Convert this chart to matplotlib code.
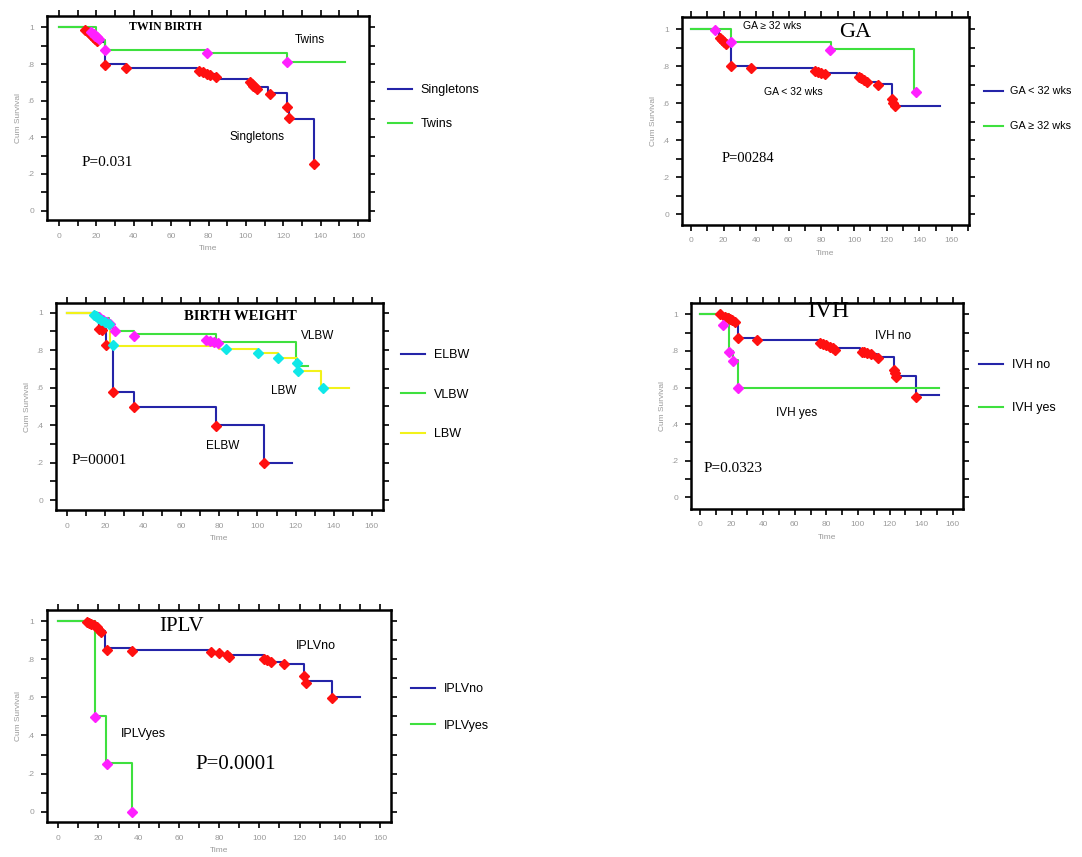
# Kaplan-Meier survival curves, five risk factors (TWIN BIRTH, GA, BIRTH WEIGHT, IVH, IPLV)

import matplotlib
matplotlib.use("Agg")
import matplotlib.pyplot as plt
from matplotlib.ticker import MultipleLocator, FixedLocator, FixedFormatter

plt.rcParams["font.family"] = ["Liberation Sans", "DejaVu Sans"]

# ---- TWIN BIRTH ----
sing_t = [0, 14, 17, 20, 24.5, 36, 74, 79, 84, 101, 104, 106, 112, 121.7, 123, 136.5]
sing_s = [1, 0.98, 0.95, 0.92, 0.80, 0.78, 0.76, 0.745, 0.72, 0.70, 0.685, 0.673, 0.64, 0.564, 0.50, 0.25]
sing_mt = [14, 15.5, 17, 18, 19.5, 20.5, 24.5, 36, 75, 77, 79, 81, 84, 102, 103, 104, 105, 106, 113, 122, 123, 136.5]
sing_ms = [0.985, 0.975, 0.96, 0.95, 0.935, 0.925, 0.795, 0.776, 0.76, 0.755, 0.748, 0.74, 0.73,
           0.70, 0.69, 0.68, 0.672, 0.665, 0.635, 0.564, 0.504, 0.255]
twin_t = [0, 20, 24.5, 79, 121.7, 153]
twin_s = [1, 0.93, 0.876, 0.862, 0.813, 0.813]
twin_mt = [17, 18.5, 19.5, 20.5, 21.5, 24.5, 79, 122]
twin_ms = [0.975, 0.965, 0.955, 0.945, 0.935, 0.876, 0.862, 0.813]

# ---- GA ----
galo_t = [0, 17, 19, 21, 24.3, 37, 75, 80, 102, 105, 108, 114, 123.5, 125, 152.5]
galo_s = [1, 0.95, 0.935, 0.92, 0.80, 0.787, 0.77, 0.76, 0.74, 0.725, 0.715, 0.705, 0.62, 0.584, 0.584]
galo_mt = [17.5, 19, 20, 21.5, 24.3, 37, 76, 78, 80, 82, 103, 104.5, 106, 108, 114.5, 123.5, 124, 125]
galo_ms = [0.95, 0.94, 0.93, 0.92, 0.80, 0.787, 0.775, 0.77, 0.765, 0.757, 0.74, 0.733, 0.725,
           0.715, 0.70, 0.62, 0.60, 0.584]
gahi_t = [0, 24.3, 86, 137]
gahi_s = [1, 0.928, 0.89, 0.66]
gahi_mt = [15, 24.3, 85, 138]
gahi_ms = [0.995, 0.928, 0.886, 0.66]

# ---- BIRTH WEIGHT ----
elbw_t = [0, 17, 20.5, 24, 35.3, 78.4, 103.4, 118]
elbw_s = [1, 0.913, 0.827, 0.576, 0.498, 0.40, 0.196, 0.196]
elbw_mt = [17, 18.5, 20.5, 24, 35.3, 78.4, 103.4]
elbw_ms = [0.913, 0.91, 0.827, 0.576, 0.498, 0.395, 0.196]
vlbw_t = [0, 17, 22, 24, 35, 78.4, 120, 126.7]
vlbw_s = [1, 0.97, 0.94, 0.905, 0.884, 0.845, 0.715, 0.715]
vlbw_mt = [17, 19, 21, 22.5, 25, 35, 73, 75, 77, 79]
vlbw_ms = [0.975, 0.96, 0.95, 0.94, 0.905, 0.876, 0.855, 0.85, 0.845, 0.838]
lbw_t = [0, 14, 18, 22.4, 80, 100, 111, 120.7, 121.5, 133.6, 148]
lbw_s = [1, 0.98, 0.95, 0.82, 0.805, 0.786, 0.756, 0.715, 0.69, 0.60, 0.60]
lbw_mt = [14, 15, 16.5, 18, 20, 22, 24, 83.6, 100.5, 111, 120.7, 121.5, 134.5]
lbw_ms = [0.99, 0.985, 0.97, 0.96, 0.95, 0.94, 0.827, 0.804, 0.786, 0.756, 0.73, 0.69, 0.60]

# ---- IVH ----
ivhno_t = [0, 13, 16, 19, 22, 24.3, 36, 76, 80, 84, 101.5, 105, 108, 112, 123, 124.3, 137, 151]
ivhno_s = [1, 0.99, 0.98, 0.97, 0.96, 0.87, 0.86, 0.845, 0.83, 0.818, 0.796, 0.79, 0.783, 0.765,
           0.696, 0.665, 0.557, 0.557]
ivhno_mt = [12.7, 15.8, 17.5, 19, 20.5, 22, 24.3, 36, 76, 78, 80, 82, 84, 85.6, 102.5, 104, 106, 108,
            113, 123, 123.7, 124.3, 137]
ivhno_ms = [1.0, 0.985, 0.98, 0.975, 0.97, 0.96, 0.869, 0.86, 0.845, 0.84, 0.83, 0.823, 0.815, 0.805,
            0.796, 0.792, 0.788, 0.783, 0.763, 0.696, 0.68, 0.656, 0.55]
ivhyes_t = [0, 18.4, 20.7, 24.3, 151]
ivhyes_s = [1, 0.80, 0.75, 0.60, 0.60]
ivhyes_mt = [14.8, 18.4, 20.7, 24.3]
ivhyes_ms = [0.94, 0.796, 0.747, 0.60]

# ---- IPLV ----
iplvno_t = [0, 14.5, 17, 19, 21, 23.3, 36.7, 75.8, 80, 85, 102.5, 104, 106, 112.5, 122, 123.5, 136, 150]
iplvno_s = [1, 0.995, 0.985, 0.97, 0.95, 0.857, 0.848, 0.835, 0.825, 0.82, 0.80, 0.795, 0.787, 0.775,
            0.71, 0.685, 0.60, 0.60]
iplvno_mt = [14.5, 15.5, 16.5, 18, 19.5, 20.5, 21.5, 24.2, 36.7, 76, 80, 84, 85, 102.5, 104, 106,
             112.5, 122, 123, 136]
iplvno_ms = [0.996, 0.99, 0.985, 0.98, 0.97, 0.955, 0.945, 0.85, 0.843, 0.84, 0.83, 0.82, 0.813,
             0.80, 0.795, 0.787, 0.775, 0.71, 0.677, 0.594]
iplvyes_t = [0, 18.3, 23.8, 36.7]
iplvyes_s = [1, 0.50, 0.253, 0.0]
iplvyes_mt = [18.3, 24.2, 36.7]
iplvyes_ms = [0.495, 0.25, 0.0]

BLUE = "#2424a8"
GREEN = "#3ee03e"
YELLOW = "#f2f21a"
RED = "#ff1010"
MAGENTA = "#ff20ff"
CYAN = "#10e8e8"
GRAY = "#9a9a9a"
SERIF = ["Liberation Serif", "DejaVu Serif"]

W, H = 1082, 857
fig = plt.figure(figsize=(W / 100, H / 100), dpi=100)


def make_axes(box, xlim, ylim):
    # box = (left, top, right, bottom) in pixels
    l, t, r, b = box
    ax = fig.add_axes([l / W, 1 - b / H, (r - l) / W, (b - t) / H])
    ax.set_xlim(*xlim)
    ax.set_ylim(*ylim)
    ax.xaxis.set_major_locator(MultipleLocator(20))
    ax.xaxis.set_minor_locator(MultipleLocator(10))
    ax.yaxis.set_major_locator(FixedLocator([0, 0.2, 0.4, 0.6, 0.8, 1.0]))
    ax.yaxis.set_major_formatter(FixedFormatter(["0", ".2", ".4", ".6", ".8", "1"]))
    ax.yaxis.set_minor_locator(MultipleLocator(0.1))
    ax.tick_params(which="both", direction="out", top=True, right=True,
                   width=1.2, length=4, labelsize=6, labelcolor=GRAY, pad=5)
    for sp in ax.spines.values():
        sp.set_linewidth(1.8)
    ax.set_xlabel("Time", fontsize=6, color=GRAY, labelpad=4)
    ax.set_ylabel("Cum Survival", fontsize=6, color=GRAY, labelpad=4)
    return ax


def km(ax, t, s, mt, ms, color, mcolor, label):
    ax.step(t, s, where="post", color=color, lw=1.5, label=label, zorder=2)
    ax.plot(mt, ms, "D", color=mcolor, ms=5.5, mec=mcolor, zorder=3)


def side_legend(ax, x, y, spacing, size=9, hl=1.9):
    fig.legend(handles=ax.get_lines()[::2], loc="upper left",
               bbox_to_anchor=(x / W, 1 - y / H), frameon=False, fontsize=size,
               handlelength=hl, handletextpad=0.7, labelspacing=spacing, borderpad=0)


# TWIN BIRTH
ax1 = make_axes((47, 16, 369, 220), (-6.4, 165.8), (-0.051, 1.062))
km(ax1, sing_t, sing_s, sing_mt, sing_ms, BLUE, RED, "Singletons")
km(ax1, twin_t, twin_s, twin_mt, twin_ms, GREEN, MAGENTA, "Twins")
ax1.text(57, 1.0, "TWIN BIRTH", family=SERIF, fontsize=8.5, fontweight="bold", ha="center", va="center")
ax1.text(126, 0.93, "Twins", fontsize=8.5, va="center")
ax1.text(91, 0.40, "Singletons", fontsize=8.5, va="center")
ax1.text(12, 0.26, "P=0.031", family=SERIF, fontsize=11, va="center")
side_legend(ax1, 382, 78, 1.75)

# GA
ax2 = make_axes((682, 17, 969, 225), (-5.5, 170.5), (-0.059, 1.065))
km(ax2, galo_t, galo_s, galo_mt, galo_ms, BLUE, RED, "GA < 32 wks")
km(ax2, gahi_t, gahi_s, gahi_mt, gahi_ms, GREEN, MAGENTA, "GA \u2265 32 wks")
ax2.text(32, 1.015, "GA \u2265 32 wks", fontsize=7.5, va="center")
ax2.text(91, 0.98, "GA", family=SERIF, fontsize=16, va="center")
ax2.text(45, 0.66, "GA < 32 wks", fontsize=7.5, va="center")
ax2.text(19, 0.30, "P=00284", family=SERIF, fontsize=10.5, va="center")
side_legend(ax2, 979, 81, 2.3, size=7.8, hl=1.7)

# BIRTH WEIGHT
ax3 = make_axes((56, 303, 383, 510), (-5.8, 165.9), (-0.053, 1.052))
km(ax3, elbw_t, elbw_s, elbw_mt, elbw_ms, BLUE, RED, "ELBW")
km(ax3, vlbw_t, vlbw_s, vlbw_mt, vlbw_ms, GREEN, MAGENTA, "VLBW")
km(ax3, lbw_t, lbw_s, lbw_mt, lbw_ms, YELLOW, CYAN, "LBW")
ax3.text(91, 0.98, "BIRTH WEIGHT", family=SERIF, fontsize=10.5, fontweight="bold", ha="center", va="center")
ax3.text(123, 0.875, "VLBW", fontsize=8.5, va="center")
ax3.text(107, 0.58, "LBW", fontsize=8.5, va="center")
ax3.text(73, 0.29, "ELBW", fontsize=8.5, va="center")
ax3.text(2.6, 0.21, "P=00001", family=SERIF, fontsize=11, va="center")
side_legend(ax3, 395, 343, 2.2)

# IVH
ax4 = make_axes((691, 303, 963, 509), (-5.7, 166.5), (-0.064, 1.062))
km(ax4, ivhno_t, ivhno_s, ivhno_mt, ivhno_ms, BLUE, RED, "IVH no")
km(ax4, ivhyes_t, ivhyes_s, ivhyes_mt, ivhyes_ms, GREEN, MAGENTA, "IVH yes")
ax4.text(68, 1.015, "IVH", family=SERIF, fontsize=17, va="center")
ax4.text(111, 0.88, "IVH no", fontsize=8.5, va="center")
ax4.text(48, 0.46, "IVH yes", fontsize=8.5, va="center")
ax4.text(2, 0.16, "P=0.0323", family=SERIF, fontsize=11, va="center")
side_legend(ax4, 973, 353, 2.5)

# IPLV
ax5 = make_axes((47, 610, 391, 822), (-5.6, 165.5), (-0.054, 1.058))
km(ax5, iplvno_t, iplvno_s, iplvno_mt, iplvno_ms, BLUE, RED, "IPLVno")
km(ax5, iplvyes_t, iplvyes_s, iplvyes_mt, iplvyes_ms, GREEN, MAGENTA, "IPLVyes")
ax5.text(50, 0.97, "IPLV", family=SERIF, fontsize=15, va="center")
ax5.text(118, 0.87, "IPLVno", fontsize=9, va="center")
ax5.text(31, 0.41, "IPLVyes", fontsize=9, va="center")
ax5.text(68, 0.245, "P=0.0001", family=SERIF, fontsize=15, va="center")
side_legend(ax5, 405, 677, 1.95)

fig.savefig("out.png", dpi=100)
